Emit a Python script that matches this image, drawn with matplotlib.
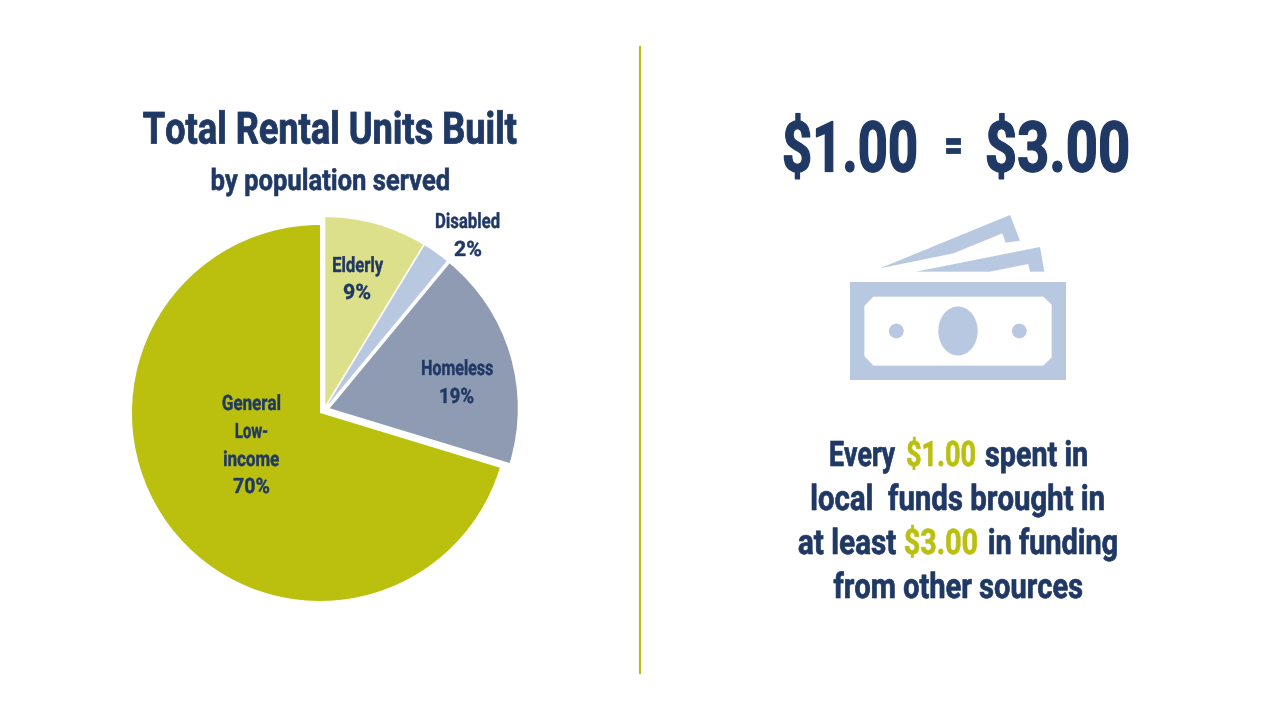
import matplotlib
matplotlib.use("Agg")
import matplotlib.pyplot as plt
from matplotlib.patches import Polygon, Ellipse, Circle
from matplotlib.patheffects import AbstractPathEffect
from matplotlib.transforms import Affine2D

# ---- data ----
categories = ["Elderly", "Disabled", "Homeless", "General Low-income"]
shares = [8.7, 2.3, 18.7, 70.3]
share_labels = ["9%", "2%", "19%", "70%"]

NAVY = "#1F3864"
LIME = "#BBC00F"
ICON = "#B8C8E0"
slice_colors = ["#DDE08B", "#B8C8E0", "#8E9BB2", "#BBC00F"]
plt.rcParams["font.family"] = ["Roboto", "DejaVu Sans"]
CAP_EM = 0.711

fig = plt.figure(figsize=(12.8, 7.2), dpi=100, facecolor="white")
ax = fig.add_axes([0, 0, 1, 1])


def Y(y):
    return 720 - y


class Tall(AbstractPathEffect):
    """Stretch text upward from its baseline and thicken it a little."""

    def __init__(self, sy, stroke):
        super().__init__()
        self.sy, self.stroke = sy, stroke

    def draw_path(self, renderer, gc, tpath, affine, rgbFace=None):
        y0 = affine.get_matrix()[1, 2]
        t = affine + Affine2D().translate(0, -y0).scale(1, self.sy).translate(0, y0)
        g = renderer.new_gc()
        g.copy_properties(gc)
        g.set_linewidth(self.stroke)
        g.set_foreground(rgbFace)
        renderer.draw_path(g, tpath, t, rgbFace)
        g.restore()


ax.pie(shares, startangle=90, counterclock=False, radius=188,
       center=(324, Y(410)), explode=[5, 5, 6, 5], colors=slice_colors,
       frame=True)
ax.set_xlim(0, 1280)
ax.set_ylim(0, 720)
ax.set_aspect("auto")
ax.axis("off")

ax.plot([640, 640], [Y(46), Y(674)], color=LIME, lw=1.5, solid_capstyle="butt")


def fit(x0, x1, base, s, cap, color=NAVY):
    """Real text, sized to span x0..x1 with its capitals `cap` pixels tall."""
    t = ax.text((x0 + x1) / 2, Y(base), s, fontsize=20, color=color,
                fontweight="bold", ha="center", va="baseline")
    w = t.get_window_extent(fig.canvas.get_renderer()).width
    fs = 20 * (x1 - x0) / w
    t.set_fontsize(fs)
    sy = cap / (fs * 100 / 72 * CAP_EM)
    t.set_path_effects([Tall(sy, cap * 0.018)])
    return t


fit(143, 516, 143.5, "Total Rental Units Built", 31.5)
fit(211, 450, 190, "by population served", 21)

LC = 15
fit(435, 500, 228, categories[1], LC)
fit(454, 482, 256, share_labels[1], LC)
fit(332, 383, 272, categories[0], LC)
fit(343, 371, 299, share_labels[0], LC)
fit(421, 493, 375, categories[2], LC)
fit(439, 474, 403, share_labels[2], LC)
fit(222, 281, 410, "General", LC)
fit(235, 268, 438, "Low-", LC)
fit(223, 279, 466, "income", LC)
fit(233, 270, 493, share_labels[3], LC)

fit(782, 918, 171.5, "$1.00", 50)
fit(943.5, 962, 160, "=", 32)
fit(985, 1130, 171.5, "$3.00", 50)

RC = 25
fit(829, 895, 466, "Every", RC)
fit(906, 976, 466, "$1.00", RC, LIME)
fit(985, 1088, 466, "spent in", RC)
fit(811, 1105, 510, "local  funds brought in", RC)
fit(798, 896, 554, "at least", RC)
fit(904, 978, 554, "$3.00", RC, LIME)
fit(988, 1118, 554, "in funding", RC)
fit(834, 1083, 598, "from other sources", RC)


# ---- money icon (zoomed pixels of the reference) ----
def Z(x, y):
    return (830 + x / 3, Y(200 + y / 3))


def poly(pts, c):
    ax.add_patch(Polygon([Z(*p) for p in pts], closed=True, fc=c, ec="none"))


poly([(60, 246), (708, 246), (708, 541), (60, 541)], ICON)
poly([(130, 290), (640, 290), (665, 314), (665, 472), (640, 497),
      (130, 497), (103, 468), (103, 318)], "white")
ax.add_patch(Ellipse(Z(384, 393), 118 / 3, 147 / 3, fc=ICON, ec="none"))
ax.add_patch(Circle(Z(199, 393), 22 / 3, fc=ICON, ec="none"))
ax.add_patch(Circle(Z(568, 393), 22 / 3, fc=ICON, ec="none"))
poly([(150, 205), (540, 45), (570, 122), (527, 128), (517, 100), (370, 160)], ICON)
poly([(258, 215), (630, 141), (643, 215), (600, 215), (595, 192), (480, 215)], ICON)

fig.savefig("out.png", dpi=100, facecolor="white")
